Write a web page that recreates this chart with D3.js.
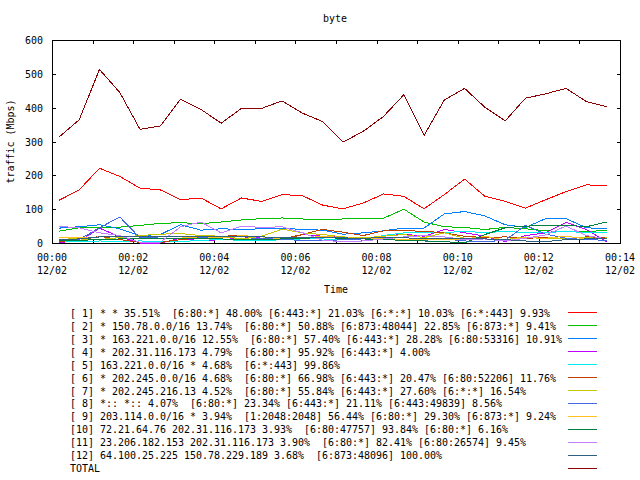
<!DOCTYPE html>
<html>
<head>
<meta charset="utf-8">
<script src="https://cdn.jsdelivr.net/npm/d3@7"></script>
<style>
  html, body { margin: 0; padding: 0; background: #fff; }
  text { font-family: "DejaVu Sans Mono", "Liberation Mono", monospace; fill: #000; font-size: 11px; white-space: pre; }
</style>
</head>
<body>
<svg id="chart" width="640" height="480"></svg>
<script>
// ---------------- data ----------------
const title = "byte";
const yLabel = "traffic (Mbps)";
const xLabel = "Time";
const dateLabel = "12/02";
const yTicks = [0, 100, 200, 300, 400, 500, 600];
const xTickMinutes = [0, 2, 4, 6, 8, 10, 12, 14];
const xTickLabels = ["00:00", "00:02", "00:04", "00:06", "00:08", "00:10", "00:12", "00:14"];
const xMinorMinutes = [1, 3, 5, 7, 9, 11, 13];

// sample times (minutes after 00:00), one sample every 30 s
const times = [0.17, 0.67, 1.17, 1.67, 2.17, 2.67, 3.17, 3.67, 4.17, 4.67, 5.17, 5.67, 6.17, 6.67,
               7.17, 7.67, 8.17, 8.67, 9.17, 9.67, 10.17, 10.67, 11.17, 11.67, 12.17, 12.67, 13.17, 13.67];

const seriesNames = [
  "[ 1] * * 35.51%  [6:80:*] 48.00% [6:443:*] 21.03% [6:*:*] 10.03% [6:*:443] 9.93%",
  "[ 2] * 150.78.0.0/16 13.74%  [6:80:*] 50.88% [6:873:48044] 22.85% [6:873:*] 9.41%",
  "[ 3] * 163.221.0.0/16 12.55%  [6:80:*] 57.40% [6:443:*] 28.28% [6:80:53316] 10.91%",
  "[ 4] * 202.31.116.173 4.79%  [6:80:*] 95.92% [6:443:*] 4.00%",
  "[ 5] 163.221.0.0/16 * 4.68%  [6:*:443] 99.86%",
  "[ 6] * 202.245.0.0/16 4.68%  [6:80:*] 66.98% [6:443:*] 20.47% [6:80:52206] 11.76%",
  "[ 7] * 202.245.216.13 4.52%  [6:80:*] 55.84% [6:443:*] 27.60% [6:*:*] 16.54%",
  "[ 8] *:: *:: 4.07%  [6:80:*] 23.34% [6:443:*] 21.11% [6:443:49839] 8.56%",
  "[ 9] 203.114.0.0/16 * 3.94%  [1:2048:2048] 56.44% [6:80:*] 29.30% [6:873:*] 9.24%",
  "[10] 72.21.64.76 202.31.116.173 3.93%  [6:80:47757] 93.84% [6:80:*] 6.16%",
  "[11] 23.206.182.153 202.31.116.173 3.90%  [6:80:*] 82.41% [6:80:26574] 9.45%",
  "[12] 64.100.25.225 150.78.229.189 3.68%  [6:873:48096] 100.00%",
  "TOTAL"
];

const s1  = [126,157,221,197,162,157,128,133,101,133,123,143,140,112,101,118,145,138,101,143,189,138,123,103,128,152,172,169];
const s2  = [35,45,46,47,52,58,60,57,62,68,72,74,71,69,71,73,73,100,62,48,46,40,46,42,36,34,35,36];
const s3  = [44,48,54,42,22,25,54,38,42,40,42,44,40,38,26,30,36,44,44,86,93,80,54,46,72,72,45,42];
const s4  = [2,5,44,18,0,0,14,6,10,14,18,12,25,20,18,8,20,26,20,40,30,20,4,22,30,61,40,4];
const s5  = [4,4,6,5,6,5,4,8,10,8,6,10,12,12,10,12,22,30,32,32,33,32,33,32,32,33,32,32];
const s6  = [5,8,20,10,2,2,10,15,20,22,18,10,25,40,32,22,36,36,35,30,20,16,18,14,16,12,18,16];
const s7  = [17,12,10,16,22,26,28,22,20,12,20,41,30,25,18,15,20,25,16,30,14,12,10,18,12,14,16,12];
const s8  = [8,10,45,77,15,18,20,16,12,10,14,10,8,6,10,12,14,10,8,12,6,4,8,52,26,14,10,8];
const s9  = [15,16,18,20,20,20,18,14,16,22,18,12,14,20,16,12,14,10,10,10,12,20,8,16,14,20,12,15];
const s10 = [6,8,10,12,14,14,12,14,12,10,10,12,14,16,14,12,10,8,6,4,0,25,45,50,51,53,48,62];
const s11 = [49,45,30,22,2,2,48,62,30,50,46,48,30,8,4,6,12,18,22,18,10,12,6,14,24,50,22,12];
const s12 = [10,12,18,20,20,20,20,20,20,20,18,16,16,15,15,14,16,15,14,14,14,12,10,6,4,10,12,12];
const total = [313,364,513,445,336,346,425,395,354,398,398,420,384,359,298,330,374,438,318,423,457,401,361,428,441,457,418,403];

const seriesValues = [s1, s2, s3, s4, s5, s6, s7, s8, s9, s10, s11, s12, total];
const seriesColors = ["#ff0000", "#00c000", "#0080ff", "#c000ff", "#00eeee", "#c04000", "#c8c800",
                      "#4169e1", "#ffc020", "#008040", "#c080ff", "#306080", "#8b0000"];

// ---------------- drawing ----------------
const svg = d3.select("#chart");
const plotL = 52, plotR = 621, plotT = 40, plotB = 243;
const charW = 6;

function addText(sel, str) {
  return sel.append("text").text(str)
    .attr("textLength", String(str).length * charW)
    .attr("lengthAdjust", "spacingAndGlyphs");
}

const x = d3.scaleLinear().domain([0, 14]).range([plotL, 620]);
const y = d3.scaleLinear().domain([0, 600]).range([plotB, plotT]);

// title
addText(svg, title).attr("x", 335).attr("y", 22).attr("text-anchor", "middle");

// y label
addText(svg, yLabel).attr("transform", "translate(14," + ((plotT + plotB) / 2) + ") rotate(-90)")
  .attr("text-anchor", "middle");

// x label
addText(svg, xLabel).attr("x", 336).attr("y", 293).attr("text-anchor", "middle");

// y ticks and labels
const tickLen = 4;
const axisG = svg.append("g").attr("shape-rendering", "crispEdges");
yTicks.forEach(v => {
  const yy = Math.round(y(v)) + 0.5;
  axisG.append("line").attr("x1", plotL).attr("x2", plotL + tickLen).attr("y1", yy).attr("y2", yy)
    .attr("stroke", "#000");
  axisG.append("line").attr("x1", plotR - tickLen).attr("x2", plotR).attr("y1", yy).attr("y2", yy)
    .attr("stroke", "#000");
  addText(svg, v).attr("x", 43).attr("y", y(v) + 4).attr("text-anchor", "end");
});

// x ticks (every minute) and labels (every 2 minutes)
xTickMinutes.concat(xMinorMinutes).forEach(m => {
  const xx = Math.round(x(m)) + 0.5;
  axisG.append("line").attr("x1", xx).attr("x2", xx).attr("y1", plotB).attr("y2", plotB - tickLen)
    .attr("stroke", "#000");
  axisG.append("line").attr("x1", xx).attr("x2", xx).attr("y1", plotT).attr("y2", plotT + tickLen)
    .attr("stroke", "#000");
});
xTickMinutes.forEach((m, i) => {
  addText(svg, xTickLabels[i]).attr("x", x(m)).attr("y", 261).attr("text-anchor", "middle");
  addText(svg, dateLabel).attr("x", x(m)).attr("y", 274).attr("text-anchor", "middle");
});

// lines
const line = d3.line().x((d, i) => x(times[i])).y(d => y(d));
const linesG = svg.append("g").attr("shape-rendering", "crispEdges");
seriesValues.forEach((vals, k) => {
  linesG.append("path").datum(vals).attr("d", line)
    .attr("fill", "none").attr("stroke", seriesColors[k]).attr("stroke-width", 1);
});

// border
axisG.append("rect").attr("x", plotL + 0.5).attr("y", plotT + 0.5)
  .attr("width", plotR - plotL - 1).attr("height", plotB - plotT)
  .attr("fill", "none").attr("stroke", "#000");

// legend
seriesNames.forEach((name, r) => {
  const by = 317 + r * 12.92;
  addText(svg, name).attr("x", 70).attr("y", by).attr("text-anchor", "start");
  const ly = Math.round(312 + r * 13) + 0.5;
  svg.append("line").attr("x1", 568).attr("x2", 597).attr("y1", ly).attr("y2", ly)
    .attr("stroke", seriesColors[r]).attr("shape-rendering", "crispEdges");
});
</script>
</body>
</html>
